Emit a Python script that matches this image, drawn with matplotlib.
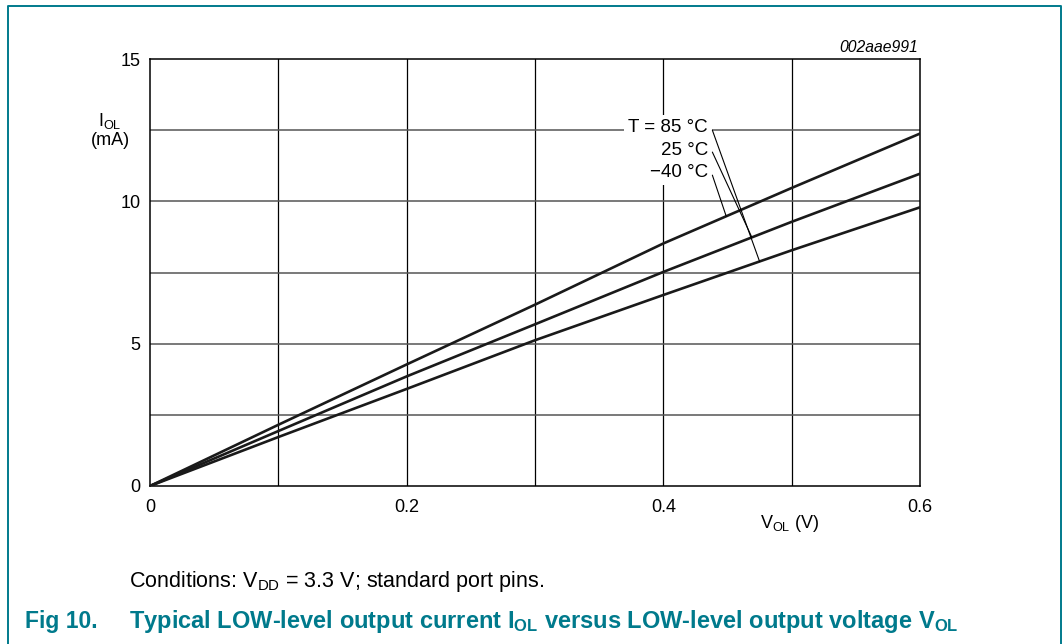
import matplotlib.pyplot as plt
import numpy as np
from matplotlib.lines import Line2D

plt.rcParams['font.family'] = ['Liberation Sans', 'DejaVu Sans']
plt.rcParams['mathtext.fontset'] = 'custom'
plt.rcParams['mathtext.rm'] = 'Liberation Sans'
plt.rcParams['mathtext.bf'] = 'Liberation Sans:bold'

vol = [0.0, 0.1, 0.2, 0.3, 0.4, 0.5, 0.6]
iol_m40 = [0.0, 2.15, 4.27, 6.37, 8.52, 10.47, 12.38]   # -40 C (top)
iol_25 = [0.0, 1.93, 3.85, 5.68, 7.52, 9.28, 10.97]     # 25 C
iol_85 = [0.0, 1.72, 3.41, 5.12, 6.71, 8.28, 9.79]      # 85 C (bottom)
xticks = [0, 0.2, 0.4, 0.6]
xticklabels = ['0', '0.2', '0.4', '0.6']
yticks = [0, 5, 10, 15]
teal = '#007a8c'

fig = plt.figure(figsize=(10.63, 6.44), dpi=100)
ax = fig.add_axes([150/1063, 158/644, 770/1063, 427/644])

# grid
for gx in [0.1, 0.2, 0.3, 0.4, 0.5]:
    ax.axvline(gx, color='black', lw=0.9, zorder=1)
for gy in [2.5, 5, 7.5, 10, 12.5]:
    ax.axhline(gy, color='#555555', lw=1.1, zorder=1)

ax.plot(vol, iol_m40, color='#1a1a1a', lw=1.9, zorder=3)
ax.plot(vol, iol_25, color='#1a1a1a', lw=1.9, zorder=3)
ax.plot(vol, iol_85, color='#1a1a1a', lw=1.9, zorder=3)

ax.set_xlim(0, 0.6)
ax.set_ylim(0, 15)
ax.set_xticks(xticks)
ax.set_xticklabels(xticklabels)
ax.set_yticks(yticks)
ax.tick_params(length=0, labelsize=13)
ax.tick_params(axis='y', pad=7)
ax.tick_params(axis='x', pad=9)
for s in ax.spines.values():
    s.set_linewidth(1.1)

# temperature labels with leader lines
labels = ['T = 85 °C', '25 °C', '\u221240 °C']
label_y = [12.58, 11.80, 11.01]
curves = [iol_85, iol_25, iol_m40]
tip_x = [0.475, 0.469, 0.449]
start_y = [12.50, 11.73, 10.92]
for lab, ly, cv, tx, sy in zip(labels, label_y, curves, tip_x, start_y):
    ax.text(0.4348, ly, lab, ha='right', va='center', fontsize=13.5, zorder=4,
            bbox=dict(fc='white', ec='none', pad=3))
    ax.annotate('', xy=(tx, np.interp(tx, vol, cv)), xytext=(0.4382, sy),
                arrowprops=dict(arrowstyle='-', lw=0.8, color='black',
                                shrinkA=0, shrinkB=0), zorder=4)

ax.text(0.997, 1.026, '002aae991', transform=ax.transAxes, ha='right',
        va='center', fontsize=11.3, style='italic')
ax.text(0.831, -0.087, r'$\mathregular{V_{OL}}$ (V)', transform=ax.transAxes,
        ha='center', va='center', fontsize=13)
ax.text(-0.052, 0.855, r'$\mathregular{I_{OL}}$', transform=ax.transAxes,
        ha='center', va='center', fontsize=13)
ax.text(-0.052, 0.81, '(mA)', transform=ax.transAxes,
        ha='center', va='center', fontsize=13)

fig.text(129/1063, 1 - 587/644, r'Conditions: $\mathregular{V_{DD}}$ = 3.3 V; standard port pins.',
         ha='left', va='baseline', fontsize=15.5)
fig.text(25/1063, 1 - 628/644, 'Fig 10.', ha='left', va='baseline',
         fontsize=16.5, fontweight='bold', color=teal)
fig.text(129/1063, 1 - 628/644,
         r'Typical LOW-level output current $\mathbf{I_{OL}}$ versus LOW-level output voltage $\mathbf{V_{OL}}$',
         ha='left', va='baseline', fontsize=17, fontweight='bold', color=teal)

# frame around the figure (open at the bottom)
bx0, bx1, by = 8/1063, 1061/1063, 1 - 6/644
fig.add_artist(Line2D([bx0, bx0, bx1, bx1], [0, by, by, 0],
                      transform=fig.transFigure, color=teal, lw=1.4))

fig.savefig('out.png', dpi=100)
